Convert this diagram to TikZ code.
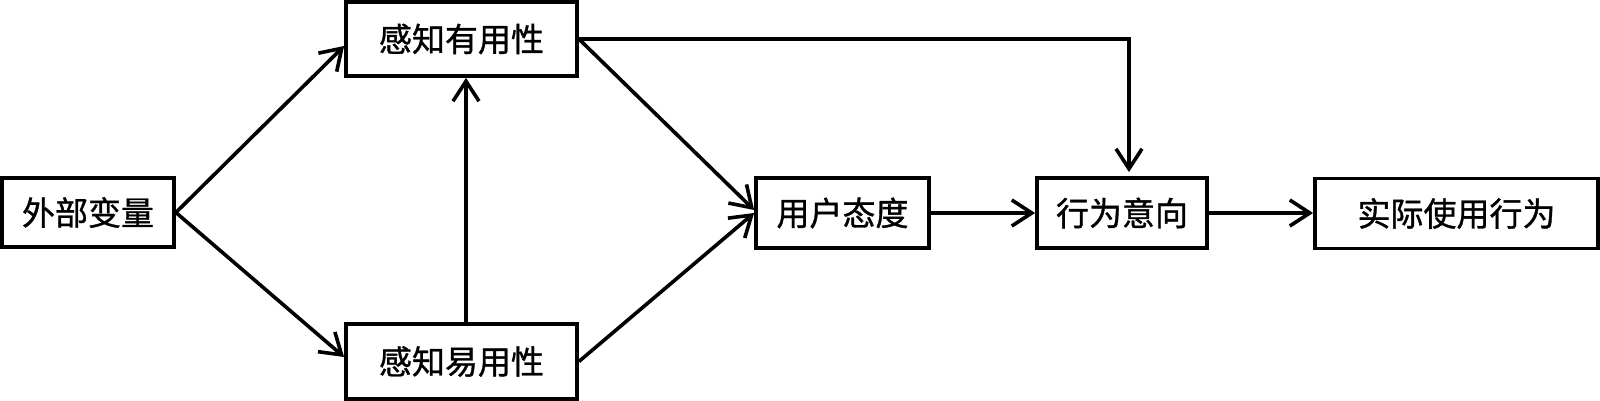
\documentclass[tikz,border=0pt]{standalone}
\usepackage{fontspec}
\newfontfamily\cjk[FakeBold=1]{Noto Sans CJK SC}
\usetikzlibrary{arrows.meta}
\begin{document}
\begin{tikzpicture}[x=0.5pt,y=-0.5pt,
  box/.style={draw=black,line width=1.9pt,fill=white,inner sep=0pt,font=\cjk\fontsize{16.5pt}{18pt}\selectfont},
  conn/.style={line width=1.8pt,-{Straight Barb[length=10pt,width=13pt]}}]
\useasboundingbox (0,0) rectangle (1600,401);
\node[box,minimum width=86pt,minimum height=34.5pt] (ext) at (88,212.5) {外部变量};
\node[box,minimum width=115.5pt,minimum height=37pt] (pu) at (461.5,39) {感知有用性};
\node[box,minimum width=115.5pt,minimum height=37.5pt] (pe) at (461.5,361.5) {感知易用性};
\node[box,minimum width=86.5pt,minimum height=35pt] (att) at (842.5,213) {用户态度};
\node[box,minimum width=85pt,minimum height=35pt] (bi) at (1122,213) {行为意向};
\node[box,minimum width=141.5pt,minimum height=35pt] (ab) at (1456.5,213.5) {实际使用行为};
\coordinate (corner) at (1129,38);
\draw[conn] (ext.east) -- ([yshift=-3.5pt]pu.west);
\draw[conn] (ext.east) -- ([yshift=2.25pt]pe.west);
\draw[conn] ([xshift=2.25pt]pe.north) -- ([xshift=2.25pt]pu.south);
\draw[conn] (pu.east) -- ([yshift=1.5pt]att.west);
\draw[conn] (pe.east) -- ([yshift=0pt]att.west);
\draw[conn] (att.east) -- (bi.west);
\draw[conn] (bi.east) -- (ab.west |- bi.east);
\draw[conn,shorten >=2pt] (pu.east) -| (corner |- bi.north);
\end{tikzpicture}
\end{document}
